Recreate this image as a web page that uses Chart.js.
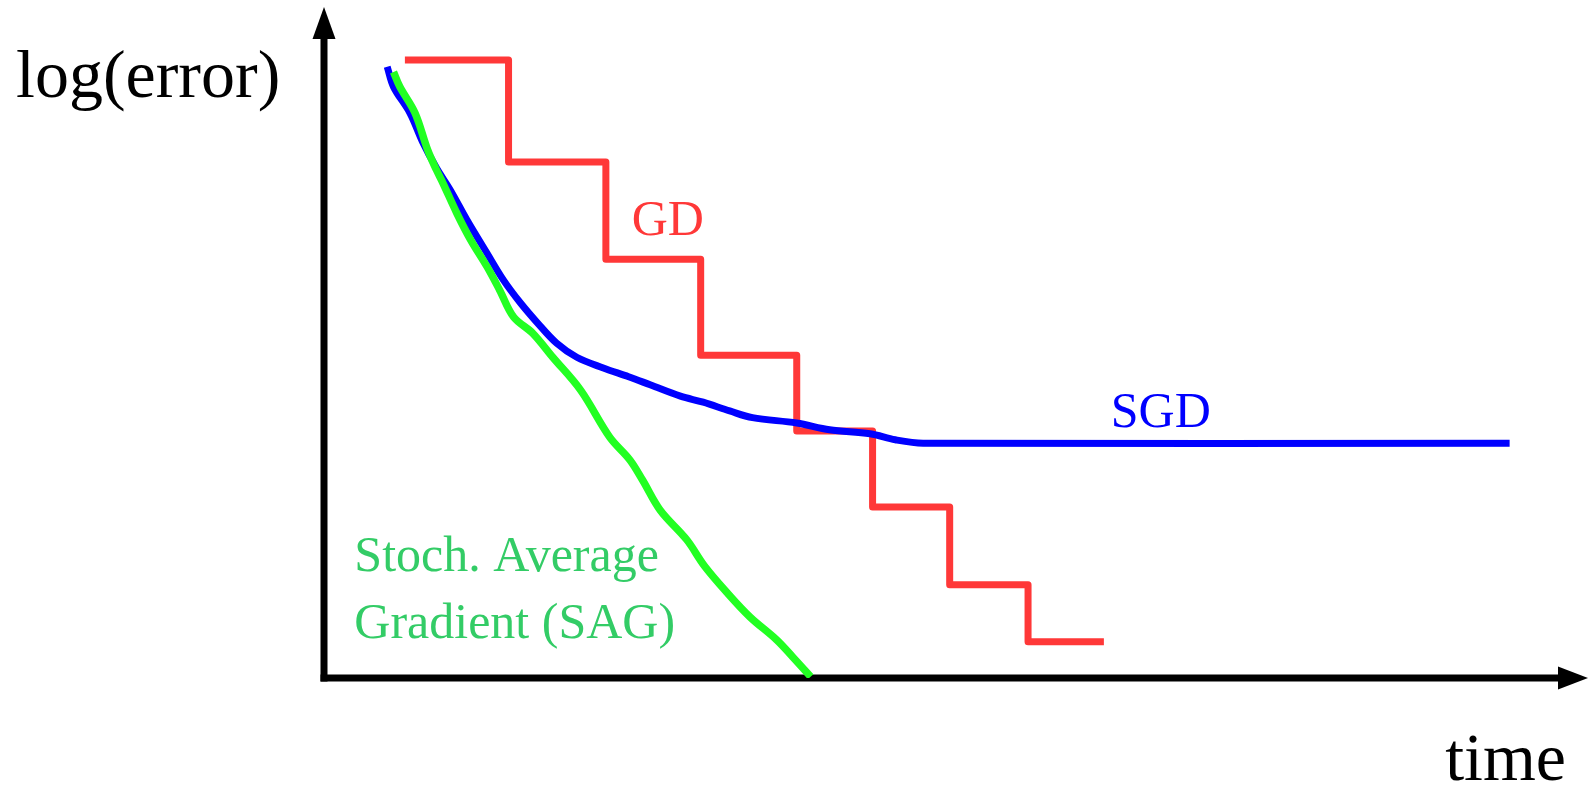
<!DOCTYPE html>
<html>
<head>
<meta charset="utf-8">
<script src="https://cdn.jsdelivr.net/npm/chart.js@4"></script>
<style>
  html, body { margin: 0; padding: 0; background: #fff; }
  #chart { display: block; }
</style>
</head>
<body>
<canvas id="chart" width="1588" height="790"></canvas>
<script>
// --- data (time / log error, arbitrary units 0-100) ---
const gdTime  = [6.4, 14.6, 22.3, 29.8, 37.4, 43.4, 49.5, 55.7, 61.7];
const gdError = [92.1, 76.9, 62.4, 48.1, 36.8, 25.5, 13.9, 5.4, 5.4];

const sgdTime  = [5.0, 5.5, 6.8, 7.8, 8.9, 10.0, 11.3, 12.9, 14.2, 15.5, 16.9, 18.4, 20.0, 22.1, 24.1, 25.8, 28.2, 30.0, 32.1, 33.9, 37.4, 40.0, 43.2, 45.2, 47.4, 93.8];
const sgdError = [91.1, 88.1, 84.2, 79.9, 76.0, 72.7, 68.3, 63.3, 59.3, 56.0, 52.9, 49.9, 47.8, 46.2, 44.9, 43.7, 42.0, 41.1, 39.8, 38.8, 38.0, 37.0, 36.4, 35.5, 35.0, 35.0];

const sagTime  = [5.5, 6.0, 7.2, 8.2, 8.9, 9.4, 10.5, 11.6, 12.9, 13.9, 15.0, 16.5, 18.1, 20.3, 22.6, 24.2, 25.2, 26.6, 28.7, 30.1, 31.9, 33.7, 35.8, 37.1, 38.5];
const sagError = [90.3, 88.1, 84.2, 78.7, 75.7, 73.8, 69.3, 65.3, 61.3, 57.8, 53.8, 51.4, 47.8, 42.9, 35.9, 32.5, 29.5, 25.0, 20.6, 16.7, 12.7, 9.1, 5.7, 3.1, 0.2];

const RED = '#ff3838';
const BLUE = '#0000ff';
const GREEN = '#22ff22';
const GREEN_TEXT = '#33cc66';
const SERIF = '"Liberation Serif", "DejaVu Serif", serif';

function toPoints(xs, ys) {
    return xs.map((x, i) => ({ x: x, y: ys[i] }));
}

// arrows for both axes
const axesPlugin = {
    id: 'arrowAxes',
    beforeDatasetsDraw(chart) {
        const { ctx, chartArea: a } = chart;
        ctx.save();
        ctx.fillStyle = '#000';
        ctx.strokeStyle = '#000';
        ctx.lineWidth = 7;
        ctx.lineCap = 'butt';
        // y axis
        ctx.beginPath();
        ctx.moveTo(a.left, a.bottom + 3.5);
        ctx.lineTo(a.left, a.top + 30);
        ctx.stroke();
        ctx.beginPath();
        ctx.moveTo(a.left, a.top);
        ctx.lineTo(a.left - 11.5, a.top + 32);
        ctx.lineTo(a.left + 11.5, a.top + 32);
        ctx.closePath();
        ctx.fill();
        // x axis
        ctx.beginPath();
        ctx.moveTo(a.left - 3.5, a.bottom);
        ctx.lineTo(a.right - 28, a.bottom);
        ctx.stroke();
        ctx.beginPath();
        ctx.moveTo(a.right, a.bottom);
        ctx.lineTo(a.right - 30, a.bottom - 11.5);
        ctx.lineTo(a.right - 30, a.bottom + 11.5);
        ctx.closePath();
        ctx.fill();
        ctx.restore();
    }
};

// series names and axis names
const textPlugin = {
    id: 'curveLabels',
    afterDatasetsDraw(chart) {
        const { ctx, chartArea: a } = chart;
        const xs = chart.scales.x, ys = chart.scales.y;
        ctx.save();
        ctx.textBaseline = 'alphabetic';

        ctx.font = '50px ' + SERIF;
        ctx.textAlign = 'center';
        ctx.fillStyle = RED;
        ctx.fillText('GD', xs.getPixelForValue(27.2), ys.getPixelForValue(66.0));
        ctx.fillStyle = BLUE;
        ctx.fillText('SGD', xs.getPixelForValue(66.2), ys.getPixelForValue(37.4));

        ctx.textAlign = 'left';
        ctx.fillStyle = GREEN_TEXT;
        ctx.fillText('Stoch. Average', xs.getPixelForValue(2.4), ys.getPixelForValue(15.9));
        ctx.fillText('Gradient (SAG)', xs.getPixelForValue(2.4), ys.getPixelForValue(6.0));

        ctx.font = '68px ' + SERIF;
        ctx.fillStyle = '#000';
        ctx.fillText('log(error)', 16, a.top + 90);
        ctx.textAlign = 'right';
        ctx.fillText('time', a.right - 22, a.bottom + 102);
        ctx.restore();
    }
};

// first dataset is painted on top: SAG over SGD over GD
const ctx = document.getElementById('chart').getContext('2d');
const chart = new Chart(ctx, {
    type: 'line',
    data: {
        datasets: [
            {
                label: 'SAG',
                data: toPoints(sagTime, sagError),
                borderColor: GREEN,
                borderWidth: 7.5,
                tension: 0.35,
                pointRadius: 0,
                fill: false
            },
            {
                label: 'SGD',
                data: toPoints(sgdTime, sgdError),
                borderColor: BLUE,
                borderWidth: 7,
                tension: 0.35,
                pointRadius: 0,
                fill: false
            },
            {
                label: 'GD',
                data: toPoints(gdTime, gdError),
                borderColor: RED,
                borderWidth: 7,
                stepped: 'before',
                borderJoinStyle: 'round',
                pointRadius: 0,
                fill: false
            }
        ]
    },
    options: {
        responsive: false,
        animation: false,
        devicePixelRatio: 1,
        layout: { padding: { left: 324, top: 7, right: 0, bottom: 112 } },
        scales: {
            x: { type: 'linear', min: 0, max: 100, display: false },
            y: { type: 'linear', min: 0, max: 100, display: false }
        },
        plugins: {
            legend: { display: false },
            tooltip: { enabled: false }
        }
    },
    plugins: [axesPlugin, textPlugin]
});
</script>
</body>
</html>
